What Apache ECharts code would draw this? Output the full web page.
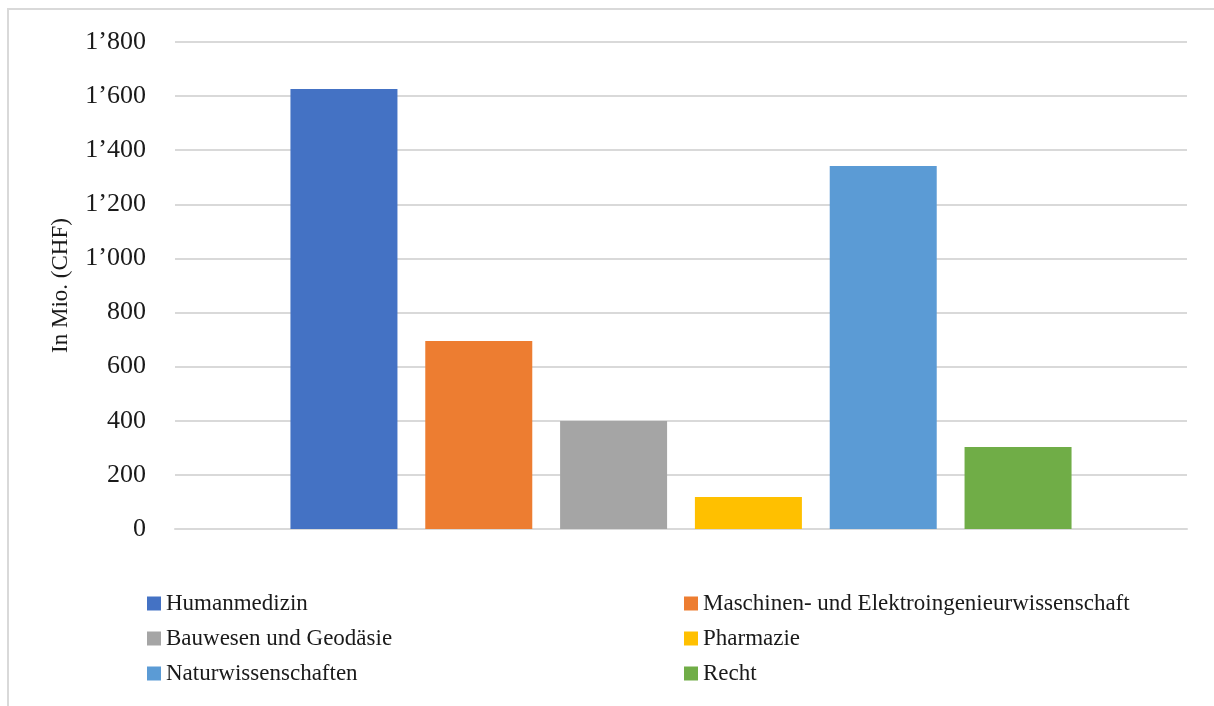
<!DOCTYPE html>
<html>
<head>
<meta charset="utf-8">
<script src="https://cdn.jsdelivr.net/npm/echarts@6/dist/echarts.min.js"></script>
<style>
  html, body { margin: 0; padding: 0; background: #fff; }
  #frame {
    position: absolute; left: 7px; top: 8px; width: 1207px; height: 698px;
    border-top: 2px solid #d9d9d9; border-left: 2px solid #d9d9d9;
  }
  #chart { position: absolute; left: 0; top: 0; width: 1214px; height: 706px; }
</style>
</head>
<body>
<div id="frame"></div>
<div id="chart"></div>
<script>
const seriesNames = [
  'Humanmedizin',
  'Maschinen- und Elektroingenieurwissenschaft',
  'Bauwesen und Geodäsie',
  'Pharmazie',
  'Naturwissenschaften',
  'Recht',
];
const seriesValues = [1626, 695, 399, 118, 1342, 303];
const seriesColors = ['#4472C4', '#ED7D31', '#A5A5A5', '#FFC000', '#5B9BD5', '#70AD47'];
const yTicks = [0, 200, 400, 600, 800, 1000, 1200, 1400, 1600, 1800];

const font = '"Liberation Serif", "DejaVu Serif", serif';

function fmt(v) {
  return String(v).replace(/\B(?=(\d{3})+(?!\d))/g, '\u2019');
}

const chart = echarts.init(document.getElementById('chart'));
const legendText = { fontFamily: font, fontSize: 23, color: '#1a1a1a' };

function makeLegend(left, names) {
  return {
    orient: 'vertical',
    left: left,
    top: 587,
    icon: 'rect',
    itemWidth: 14,
    itemHeight: 14,
    itemGap: 12,
    itemTextGap: 6,
    itemStyle: { borderWidth: 0 },
    textStyle: legendText,
    data: names,
  };
}

const option = {
  animation: false,
  grid: { left: 175, right: 27, top: 42, bottom: 177 },
  xAxis: {
    type: 'category',
    data: [''],
    axisLine: { lineStyle: { color: '#d9d9d9', width: 2 } },
    axisTick: { show: false },
    axisLabel: { show: false },
  },
  yAxis: {
    type: 'value',
    min: yTicks[0],
    max: yTicks[yTicks.length - 1],
    interval: 200,
    name: 'In Mio. (CHF)',
    nameLocation: 'middle',
    nameGap: 103,
    nameRotate: 90,
    nameTextStyle: { fontFamily: font, fontSize: 23, color: '#1a1a1a' },
    axisLine: { show: false },
    axisTick: { show: false },
    axisLabel: {
      margin: 29,
      fontFamily: font,
      fontSize: 26,
      color: '#1a1a1a',
      formatter: fmt,
    },
    splitLine: { lineStyle: { color: '#d9d9d9', width: 2 } },
  },
  legend: [
    makeLegend(142, [seriesNames[0], seriesNames[2], seriesNames[4]]),
    makeLegend(679, [seriesNames[1], seriesNames[3], seriesNames[5]]),
  ],
  series: seriesNames.map((name, i) => ({
    name: name,
    type: 'bar',
    data: [seriesValues[i]],
    barWidth: 107,
    barGap: '26%',
    itemStyle: { color: seriesColors[i] },
  })),
};

chart.setOption(option);
window.addEventListener('resize', () => {
  chart.resize();
});
</script>
</body>
</html>
